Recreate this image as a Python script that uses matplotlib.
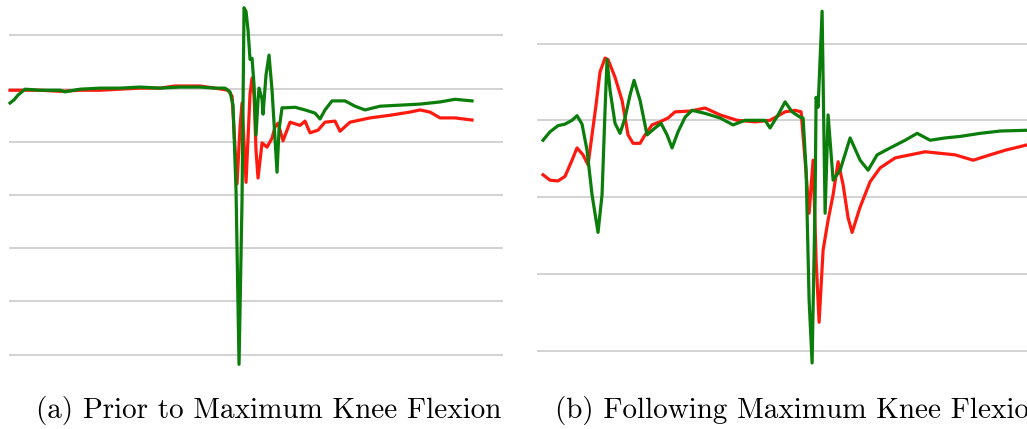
import matplotlib.pyplot as plt

# Panel (a): sample index and signal value (grid units) before max knee flexion
a_green_t = [1, 5, 9, 16, 31, 51, 56, 71, 91, 111, 131, 151, 171, 191, 206, 216,
             221, 224, 227, 230, 233, 235, 237, 239, 241, 243, 245, 247, 249, 250,
             253, 254, 257, 260, 263, 268, 270, 273, 276, 286, 296, 306, 311, 316,
             323, 336, 346, 356, 371, 391, 411, 431, 446, 463]
a_green_v = [1.73, 1.79, 1.88, 1.99, 1.97, 1.97, 1.94, 1.99, 2.01, 2.01, 2.03, 2.01,
             2.03, 2.03, 2.01, 2.01, 1.94, 1.69, 0.09, -3.18, -0.09, 3.52, 3.45,
             3.10, 2.55, 2.57, 2.07, 1.13, 1.79, 2.01, 1.80, 1.52, 2.26, 2.63, 1.97,
             0.43, 1.23, 1.64, 1.64, 1.65, 1.60, 1.54, 1.43, 1.60, 1.77, 1.77, 1.67,
             1.60, 1.67, 1.69, 1.71, 1.75, 1.80, 1.77]

a_red_t = [1, 11, 31, 51, 71, 91, 111, 131, 151, 166, 181, 191, 206, 219, 223, 225,
           228, 231, 233, 237, 241, 243, 245, 247, 249, 253, 258, 263, 266, 269, 274,
           281, 291, 296, 301, 309, 316, 326, 331, 341, 361, 381, 401, 411, 421, 431,
           446, 463]
a_red_v = [1.97, 1.97, 1.97, 1.95, 1.97, 1.97, 1.99, 2.01, 2.01, 2.05, 2.05, 2.05,
           2.01, 1.97, 1.86, 1.22, 0.21, 1.28, 1.73, 0.24, 1.90, 2.20, 1.88, 0.83,
           0.32, 0.98, 0.90, 1.07, 1.28, 1.35, 1.02, 1.37, 1.31, 1.39, 1.17, 1.22,
           1.37, 1.39, 1.20, 1.37, 1.45, 1.50, 1.56, 1.60, 1.56, 1.45, 1.45, 1.41]

# Panel (b): after max knee flexion
b_green_t = [6, 13, 21, 28, 35, 40, 45, 50, 55, 61, 65, 68, 70, 73, 78, 83, 88, 93,
             97, 103, 110, 118, 124, 130, 135, 141, 148, 155, 168, 183, 196, 208,
             228, 233, 241, 248, 255, 263, 266, 269, 272, 275, 278, 279, 281, 285,
             288, 291, 296, 303, 313, 323, 331, 340, 353, 368, 380, 393, 408, 423,
             443, 463, 490]
b_green_v = [0.74, 0.85, 0.93, 0.95, 1.00, 1.06, 0.95, 0.61, 0.03, -0.46, 0.03,
             1.13, 1.79, 1.39, 0.96, 0.83, 1.03, 1.33, 1.52, 1.26, 0.81, 0.90, 0.96,
             0.81, 0.64, 0.85, 1.04, 1.13, 1.09, 1.03, 0.94, 1.00, 1.00, 0.90, 1.07,
             1.24, 1.11, 1.04, 1.03, 0.35, -1.34, -2.16, -0.04, 1.30, 1.17, 2.42,
             -0.21, 1.07, 0.22, 0.35, 0.77, 0.48, 0.35, 0.55, 0.64, 0.74, 0.83, 0.74,
             0.77, 0.79, 0.83, 0.86, 0.87]

b_red_t = [6, 13, 21, 28, 35, 40, 46, 51, 55, 59, 63, 68, 71, 78, 85, 91, 96, 103,
           108, 115, 123, 131, 138, 153, 168, 183, 200, 218, 233, 248, 258, 264,
           268, 272, 276, 279, 282, 286, 291, 296, 301, 306, 311, 315, 323, 333,
           343, 358, 373, 388, 403, 418, 436, 453, 468, 490]
b_red_v = [0.29, 0.22, 0.21, 0.27, 0.48, 0.64, 0.55, 0.42, 0.81, 1.20, 1.63, 1.81,
           1.79, 1.56, 1.26, 0.81, 0.70, 0.70, 0.81, 0.94, 0.98, 1.03, 1.11, 1.12,
           1.16, 1.07, 1.00, 0.98, 1.00, 1.11, 1.13, 1.11, 0.48, -0.21, 0.48, -0.82,
           -1.63, -0.69, -0.30, 0.03, 0.46, 0.16, -0.27, -0.46, -0.13, 0.20, 0.38,
           0.51, 0.55, 0.59, 0.57, 0.55, 0.48, 0.55, 0.61, 0.68]

a_grid = [3, 2, 1, 0, -1, -2, -3]
b_grid = [2, 1, 0, -1, -2]

captions = ["(a) Prior to Maximum Knee Flexion", "(b) Following Maximum Knee Flexion"]

RED = "#ff1a10"
GREEN = "#0a7d0a"

fig = plt.figure(figsize=(10.27, 4.29), dpi=100)

ax1 = fig.add_axes([0.0088, 0.136, 0.481, 0.862])
ax2 = fig.add_axes([0.5229, 0.129, 0.487, 0.868])


def style(ax, grid, xlim, ylim):
    ax.set_xlim(*xlim)
    ax.set_ylim(*ylim)
    ax.set_yticks(grid)
    ax.set_xticks([])
    ax.grid(axis="y", color="#cfcfcf", linewidth=1.3)
    ax.set_axisbelow(True)
    ax.tick_params(left=False, labelleft=False)
    for s in ax.spines.values():
        s.set_visible(False)


ax1.plot(a_red_t, a_red_v, color=RED, linewidth=2.3, clip_on=False)
ax1.plot(a_green_t, a_green_v, color=GREEN, linewidth=2.3, clip_on=False)
style(ax1, a_grid, (0, 494), (-3.3, 3.65))

ax2.plot(b_red_t, b_red_v, color=RED, linewidth=2.3, clip_on=False)
ax2.plot(b_green_t, b_green_v, color=GREEN, linewidth=2.3, clip_on=False)
style(ax2, b_grid, (0, 500), (-2.3, 2.55))

fig.text(0.035, 0.026, captions[0], family="cmr10", fontsize=21, ha="left", va="baseline")
fig.text(0.540, 0.026, captions[1], family="cmr10", fontsize=21, ha="left", va="baseline")

fig.savefig("out.png", dpi=100)
